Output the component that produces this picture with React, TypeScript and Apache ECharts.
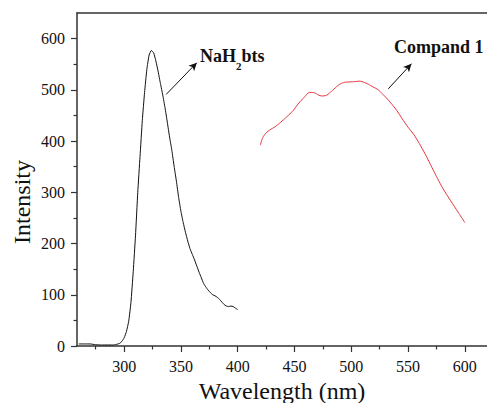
import React, { useEffect, useRef } from "react";
import * as echarts from "echarts";

// NaH2bts emission (black)
const naWave = [260, 265, 270, 275, 280, 285, 290, 293, 296, 298, 300, 302, 304, 306, 308, 310, 312, 314, 316, 318, 320, 322, 324, 326, 328, 330, 332, 334, 336, 338, 340, 342, 344, 346, 348, 350, 352, 354, 356, 358, 360, 362, 364, 366, 368, 370, 372, 374, 376, 378, 380, 382, 384, 386, 388, 390, 392, 394, 396, 398, 400];
const naInt = [4, 4, 4, 2.5, 2, 2, 2, 3, 5, 9, 16, 28, 48, 85, 145, 215, 300, 370, 440, 495, 540, 568, 577, 572, 556, 535, 512, 490, 465, 437, 408, 382, 351, 322, 290, 263, 241, 222, 205, 190, 179, 168, 156, 144, 133, 122, 115, 109, 104, 100, 98, 95, 91, 86, 81, 78, 77, 78, 77, 74, 71];

// Compand 1 emission (red)
const cpWave = [420, 421, 422.6, 425, 428.5, 433, 437, 441, 445, 449, 453, 457, 460, 462, 465, 468, 471, 474, 478, 481, 484, 488, 491.6, 495, 499, 503, 507.7, 511, 515, 519, 523.8, 527, 531, 535, 540, 545, 550, 555, 560, 565, 570, 575, 580, 585, 590, 595, 600];
const cpInt = [392, 401, 409, 416, 422, 428, 435, 443, 451, 460, 472, 482, 489, 494, 495, 494, 490, 488, 489, 494, 500, 508, 513, 515, 515.5, 516, 517, 515, 511, 506, 500, 493, 484, 474, 460, 443, 427, 413, 395, 375, 353, 331, 310, 292, 275, 258, 241];

const xMajor = [300, 350, 400, 450, 500, 550, 600];
const xMinor = [275, 325, 375, 425, 475, 525, 575];
const yMajor = [0, 100, 200, 300, 400, 500, 600];
const yMinor = [50, 150, 250, 350, 450, 550];

// annotation arrows [from, to] in data coords
const naArrow = [[337, 491], [364, 553]];
const cpArrow = [[532.6, 502], [553, 551]];

const FONT = "Liberation Serif";
const AX = "#333";

export default function App() {
  const ref = useRef<HTMLDivElement>(null);
  useEffect(() => {
    if (!ref.current) return;
    const chart = echarts.init(ref.current, null, { renderer: "svg" });
    const zip = (a: number[], b: number[]) => a.map((v, i) => [v, b[i]]);
    const arrowLine = (pts: number[][]) => ({
      silent: true,
      symbol: ["none", "arrow"],
      symbolSize: [6, 8],
      label: { show: false },
      lineStyle: { color: "#111", width: 1, type: "solid" },
      data: [[{ coord: pts[0] }, { coord: pts[1] }]],
    });
    const txt = (text: string, x: number, y: number, size: number, bold: boolean, rot = 0, align = "left") => ({
      type: "text",
      x,
      y,
      rotation: rot,
      style: {
        text,
        fontFamily: FONT,
        fontSize: size,
        fontWeight: bold ? "bold" : "normal",
        fill: "#111",
        align,
        verticalAlign: "middle",
      },
    });
    chart.setOption({
      animation: false,
      backgroundColor: "#fff",
      grid: { left: 77, right: 0, top: 13, bottom: 57, outerBoundsMode: "none", containLabel: false },
      xAxis: [
        {
          type: "value",
          position: "bottom",
          min: 258.5,
          max: 619.5,
          name: "Wavelength (nm)",
          nameLocation: "middle",
          nameGap: 31,
          nameTextStyle: { fontFamily: FONT, fontSize: 24, color: "#111" },
          axisLine: { show: true, lineStyle: { color: AX, width: 1.5 } },
          axisTick: { show: true, length: 6, customValues: xMajor, lineStyle: { color: AX, width: 1.2 } },
          axisLabel: { customValues: xMajor, fontFamily: FONT, fontSize: 16, color: "#111", margin: 12 },
          splitLine: { show: false },
        },
        {
          type: "value",
          position: "bottom",
          min: 258.5,
          max: 619.5,
          axisLine: { show: false },
          axisTick: { show: true, length: 3.5, customValues: xMinor, lineStyle: { color: AX, width: 1.2 } },
          axisLabel: { show: false },
          splitLine: { show: false },
        },
        {
          type: "value",
          position: "top",
          min: 258.5,
          max: 619.5,
          axisLine: { show: true, lineStyle: { color: AX, width: 1.5 } },
          axisTick: { show: false },
          axisLabel: { show: false },
          splitLine: { show: false },
        },
      ],
      yAxis: [
        {
          type: "value",
          min: 0,
          max: 650,
          axisLine: { show: true, lineStyle: { color: AX, width: 1.5 } },
          axisTick: { show: true, length: 6, customValues: yMajor, lineStyle: { color: AX, width: 1.2 } },
          axisLabel: { customValues: yMajor, fontFamily: FONT, fontSize: 16, color: "#111", margin: 12 },
          splitLine: { show: false },
        },
        {
          type: "value",
          min: 0,
          max: 650,
          position: "left",
          axisLine: { show: false },
          axisTick: { show: true, length: 3.5, customValues: yMinor, lineStyle: { color: AX, width: 1.2 } },
          axisLabel: { show: false },
          splitLine: { show: false },
        },
      ],
      graphic: [
        txt("Intensity", 22, 202, 24, false, Math.PI / 2, "center"),
        txt("NaH", 200, 56, 18, true),
        txt("2", 236, 66, 11, true),
        txt("bts", 241.5, 56, 18, true),
        txt("Compand 1", 394, 47, 18, true),
      ],
      series: [
        {
          type: "line",
          name: "NaH2bts",
          data: zip(naWave, naInt),
          showSymbol: false,
          smooth: 0.15,
          lineStyle: { color: "#111", width: 1 },
          markLine: arrowLine(naArrow),
        },
        {
          type: "line",
          name: "Compand 1",
          data: zip(cpWave, cpInt),
          showSymbol: false,
          smooth: 0.15,
          lineStyle: { color: "#e5323a", width: 1 },
          markLine: arrowLine(cpArrow),
        },
      ],
    });
    return () => chart.dispose();
  }, []);
  return (
    <div
      ref={ref}
      style={{ position: "fixed", left: 0, top: 0, width: 487, height: 403, background: "#fff" }}
    />
  );
}
